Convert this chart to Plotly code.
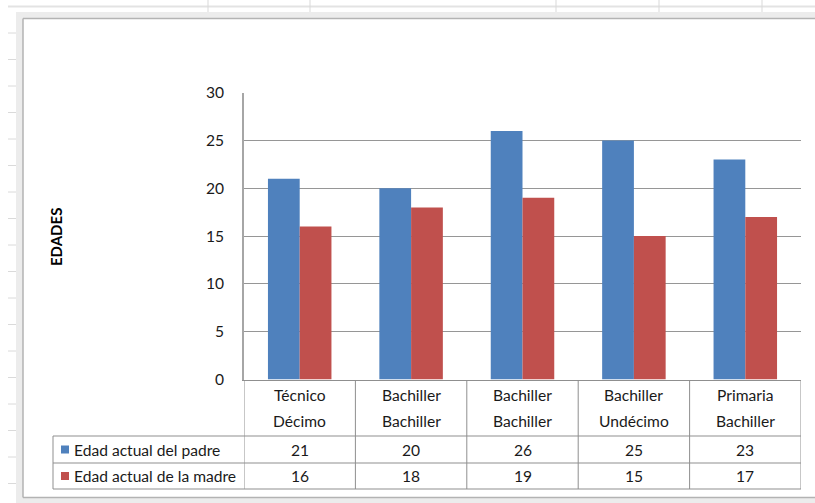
import plotly.graph_objects as go

# ---- data ----
cat_line1 = ["Técnico", "Bachiller", "Bachiller", "Bachiller", "Primaria"]
cat_line2 = ["Décimo", "Bachiller", "Bachiller", "Undécimo", "Bachiller"]
series_names = ["Edad actual del padre", "Edad actual de la madre"]
padre = [21, 20, 26, 25, 23]
madre = [16, 18, 19, 15, 17]
y_ticks = [0, 5, 10, 15, 20, 25, 30]
y_title = "EDADES"

W, H = 815, 503
BLUE = "#4F81BD"
RED = "#C0504D"
FONT = "Lato"
FS = 15.6
TXT = "#1a1a1a"
GRID = "#969696"
TBL = "#8f8f8f"


def px(x):
    return x / W


def py(y):
    return 1 - y / H


xs = list(range(len(padre)))

fig = go.Figure()
fig.add_bar(x=xs, y=padre, name=series_names[0], marker=dict(color=BLUE, line=dict(width=0)))
fig.add_bar(x=xs, y=madre, name=series_names[1], marker=dict(color=RED, line=dict(width=0)))

shapes = []
annotations = []

# --- spreadsheet background & chart frame ---
shapes.append(dict(type="line", xref="paper", yref="paper", x0=px(8), x1=1, y0=py(6.5), y1=py(6.5),
                   line=dict(color="#e3e3e3", width=2)))
for vx in [208, 310, 556, 659, 762]:
    shapes.append(dict(type="line", xref="paper", yref="paper", x0=px(vx), x1=px(vx), y0=py(0), y1=py(12),
                       line=dict(color="#d9d9d9", width=1)))
ry = 33.0
while ry < H:
    shapes.append(dict(type="line", xref="paper", yref="paper", x0=px(8), x1=px(16), y0=py(ry), y1=py(ry),
                       line=dict(color="#dadada", width=1)))
    ry += 26.5
# frame bands
shapes.append(dict(type="rect", xref="paper", yref="paper", x0=px(16), x1=1, y0=py(12), y1=py(18.5),
                   fillcolor="#ececec", line=dict(width=0), layer="below"))
shapes.append(dict(type="rect", xref="paper", yref="paper", x0=px(16), x1=px(23), y0=py(12), y1=0,
                   fillcolor="#ececec", line=dict(width=0), layer="below"))
shapes.append(dict(type="rect", xref="paper", yref="paper", x0=px(16), x1=1, y0=py(498), y1=0,
                   fillcolor="#ececec", line=dict(width=0), layer="below"))
shapes.append(dict(type="line", xref="paper", yref="paper", x0=px(23), x1=1, y0=py(18.5), y1=py(18.5),
                   line=dict(color="#b3b3b3", width=1.5)))
shapes.append(dict(type="line", xref="paper", yref="paper", x0=px(23), x1=px(23), y0=py(18.5), y1=py(497.5),
                   line=dict(color="#b3b3b3", width=1.5)))
shapes.append(dict(type="line", xref="paper", yref="paper", x0=px(23), x1=1, y0=py(497.5), y1=py(497.5),
                   line=dict(color="#b3b3b3", width=1.5)))

# --- data table ---
table_top, row1, row2, row3 = 380, 436, 463, 489
left_box = 53
for i in range(len(xs) + 1):
    shapes.append(dict(type="line", xref="x", yref="paper", x0=i - 0.5, x1=i - 0.5,
                       y0=py(table_top), y1=py(row3), line=dict(color=TBL, width=1)))
for ry_ in [row1, row2, row3]:
    shapes.append(dict(type="line", xref="paper", yref="paper", x0=px(left_box), x1=px(801),
                       y0=py(ry_), y1=py(ry_), line=dict(color=TBL, width=1)))
shapes.append(dict(type="line", xref="paper", yref="paper", x0=px(left_box), x1=px(left_box),
                   y0=py(row1), y1=py(row3), line=dict(color=TBL, width=1)))

# legend keys
for (yc, col) in [((row1 + row2) / 2, BLUE), ((row2 + row3) / 2, RED)]:
    shapes.append(dict(type="rect", xref="paper", yref="paper", x0=px(61), x1=px(69),
                       y0=py(yc - 4), y1=py(yc + 4), fillcolor=col, line=dict(width=0)))

for name, yc in zip(series_names, [(row1 + row2) / 2, (row2 + row3) / 2]):
    annotations.append(dict(xref="paper", yref="paper", x=px(72), y=py(yc), text=name, showarrow=False,
                            xanchor="left", yanchor="middle", font=dict(family=FONT, size=FS, color=TXT)))

for i in xs:
    annotations.append(dict(xref="x", yref="paper", x=i, y=py(395), text=cat_line1[i], showarrow=False,
                            xanchor="center", yanchor="middle", font=dict(family=FONT, size=FS, color=TXT)))
    annotations.append(dict(xref="x", yref="paper", x=i, y=py(421), text=cat_line2[i], showarrow=False,
                            xanchor="center", yanchor="middle", font=dict(family=FONT, size=FS, color=TXT)))
    annotations.append(dict(xref="x", yref="paper", x=i, y=py((row1 + row2) / 2), text=str(padre[i]),
                            showarrow=False, xanchor="center", yanchor="middle",
                            font=dict(family=FONT, size=FS, color=TXT)))
    annotations.append(dict(xref="x", yref="paper", x=i, y=py((row2 + row3) / 2), text=str(madre[i]),
                            showarrow=False, xanchor="center", yanchor="middle",
                            font=dict(family=FONT, size=FS, color=TXT)))

annotations.append(dict(xref="paper", yref="paper", x=px(56), y=py(237), text="<b>" + y_title + "</b>",
                        textangle=-90, showarrow=False, xanchor="center", yanchor="middle",
                        font=dict(family=FONT, size=15, color="#000000")))

fig.update_layout(
    width=W, height=H, autosize=False,
    margin=dict(l=0, r=0, t=0, b=0, pad=0, autoexpand=False),
    paper_bgcolor="white", plot_bgcolor="white",
    barmode="group", bargap=0.43, bargroupgap=0,
    showlegend=False,
    shapes=shapes, annotations=annotations,
    xaxis=dict(domain=[px(244), px(801)], range=[-0.5, len(xs) - 0.5], showticklabels=False,
               automargin=False,
               showgrid=False, zeroline=False, showline=True, linecolor=TBL, linewidth=1, fixedrange=True),
    yaxis=dict(domain=[py(379.5), py(92.7)], range=[0, 30], tickvals=y_ticks, automargin=False,
               showgrid=True, gridcolor=GRID, gridwidth=1, zeroline=False,
               showline=True, linecolor="#a6a6a6", linewidth=1.5,
               ticks="", ticklabelstandoff=15,
               tickfont=dict(family=FONT, size=FS, color=TXT), fixedrange=True),
    font=dict(family=FONT),
)

fig.write_html("out.html", config={"displayModeBar": False},
               post_script="document.body.style.margin='0';document.body.style.overflow='hidden';")
